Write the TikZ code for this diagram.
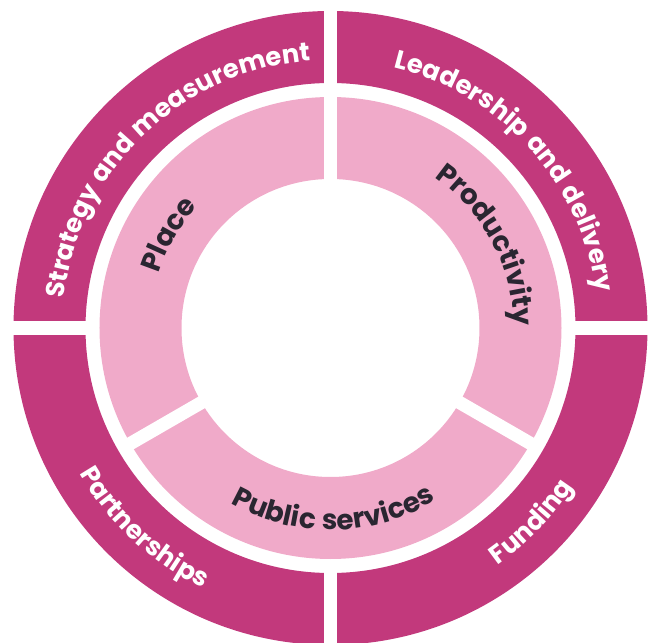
\documentclass[tikz,border=0pt]{standalone}
\usepackage{fontspec}
\setmainfont{Poppins}[WordSpace=1.2]
\usepackage{tikz}
\usetikzlibrary{decorations.text}
\usepackage{xcolor}
\definecolor{ringdark}{HTML}{C2397C}
\definecolor{ringlight}{HTML}{F0AAC9}
\definecolor{labelink}{HTML}{2A2631}
\newcommand\outerfont{\fontsize{18.4pt}{22pt}\selectfont\bfseries}
\newcommand\innerfont{\fontsize{19.8pt}{22pt}\selectfont\bfseries}

\begin{document}
\begin{tikzpicture}[x=0.025cm,y=0.025cm,
	gap/.style={white,line width=9.4pt},
	ringlabel/.style 2 args={postaction={decorate,decoration={text along path,
	  text align=center,text color=#1,text={#2}}}}]
	\useasboundingbox (-330.5,-315) rectangle (319.5,328);
	% the two rings
	\fill[ringdark,even odd rule] (0,0) circle (317) (0,0) circle (245);
	\fill[ringlight,even odd rule] (0,0) circle (231) (0,0) circle (149);
	% white cuts between the segments
	\foreach \a/\from/\to in {0/240/325, 90/140/325, 180/240/325, 270/240/325,
	                          210/140/238, 330/140/238}
	  \draw[gap] (\a:\from) -- (\a:\to);
	% outer labels, top half reads clockwise
	\foreach \c/\txt in {134/Strategy and measurement, 42/Leadership and delivery}
	  \path[ringlabel={white}{|\outerfont|\txt}] (\c+80:268) arc[start angle=\c+80, end angle=\c-80, radius=268];
	% outer labels, bottom half reads anticlockwise
	\foreach \c/\txt in {227/Partnerships, 316/Funding}
	  \path[ringlabel={white}{|\outerfont|\txt}] (\c-60:290) arc[start angle=\c-60, end angle=\c+60, radius=290];
	% inner labels
	\foreach \c/\r/\txt in {150/180/Place, 28/183/Productivity}
	  \path[ringlabel={labelink}{|\innerfont|\txt}] (\c+60:\r) arc[start angle=\c+60, end angle=\c-60, radius=\r];
	\path[ringlabel={labelink}{|\innerfont|Public services}] (211:202) arc[start angle=211, end angle=331, radius=202];
\end{tikzpicture}
\end{document}
